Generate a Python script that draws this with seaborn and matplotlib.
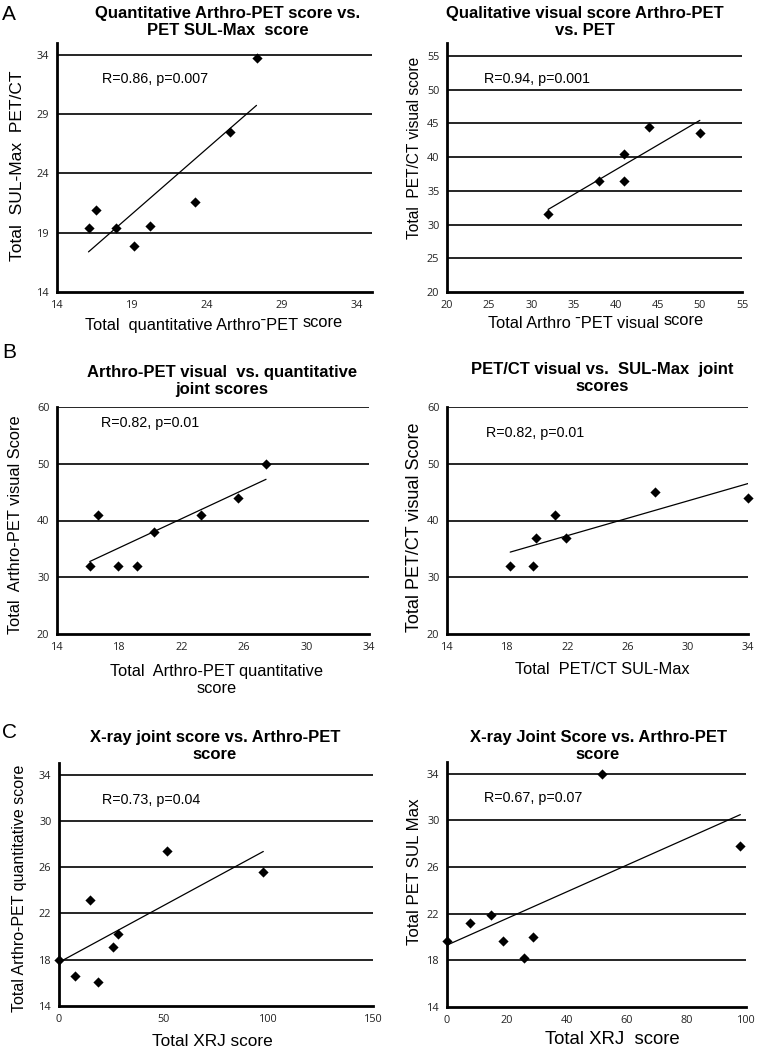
import numpy as np
import matplotlib
matplotlib.use("Agg")
import matplotlib.pyplot as plt
import seaborn as sns

# A left: quantitative Arthro-PET vs PET SUL-Max
a1_x = [16.1, 16.6, 17.9, 19.1, 20.2, 23.2, 25.5, 27.3]
a1_y = [19.4, 20.9, 19.4, 17.9, 19.6, 21.6, 27.5, 33.7]
# A right: visual Arthro-PET vs PET/CT visual
a2_x = [32, 38, 41, 41, 44, 50]
a2_y = [31.5, 36.5, 40.5, 36.5, 44.5, 43.5]
# B left: Arthro-PET quantitative vs visual
b1_x = [16.1, 16.6, 17.9, 19.1, 20.2, 23.2, 25.6, 27.4]
b1_y = [32, 41, 32, 32, 38, 41, 44, 50]
# B right: PET/CT SUL-Max vs PET/CT visual
b2_x = [18.2, 19.7, 19.9, 21.2, 21.9, 27.8, 34.0]
b2_y = [32, 32, 37, 41, 37, 45, 44]
# C left: XRJ vs Arthro-PET quantitative
c1_x = [0, 7.8, 14.6, 18.8, 25.7, 28.4, 51.6, 97.6]
c1_y = [18.0, 16.6, 23.2, 16.1, 19.1, 20.2, 27.4, 25.6]
# C right: XRJ vs PET SUL Max
c2_x = [0, 7.7, 14.8, 18.8, 25.9, 28.9, 51.9, 98.1]
c2_y = [19.7, 21.2, 21.9, 19.7, 18.2, 20.0, 34.0, 27.8]

W, H = 758, 1050
sns.set_style("white")
plt.rcParams['font.family'] = ['Liberation Sans', 'DejaVu Sans']
plt.rcParams['text.color'] = 'black'
plt.rcParams['axes.labelcolor'] = 'black'

fig = plt.figure(figsize=(W / 100, H / 100), dpi=100)


def panel(box, x, y, xlim, ylim, xticks, yticks, title, tpos, xlabel, xlpos,
          ylabel, ylpos, stat, xls=11.8, yls=12, raised=None):
    l, t, r, b = box
    ax = fig.add_axes([l / W, 1 - b / H, (r - l) / W, (b - t) / H])
    fx = lambda px: (px - l) / (r - l)
    fy = lambda py: (b - py) / (b - t)

    sns.regplot(x=np.array(x), y=np.array(y), ax=ax, ci=None, marker="D",
                scatter_kws=dict(s=27, color="black", alpha=1, linewidths=0,
                                 clip_on=False, zorder=4),
                line_kws=dict(color="black", lw=0.9, zorder=3))

    ax.set_xlim(xlim)
    ax.set_ylim(ylim)
    ax.set_xticks(xticks)
    ax.set_yticks(yticks)
    for yy in yticks[1:]:
        ax.axhline(yy, color="black", lw=1.2, zorder=1)
    sns.despine(ax=ax)
    for s in ["left", "bottom"]:
        ax.spines[s].set_linewidth(2)
        ax.spines[s].set_color("black")
    ax.tick_params(direction="out", length=3.5, width=1, color="black",
                   labelsize=7.8, pad=2)
    for lab in ax.get_xticklabels() + ax.get_yticklabels():
        lab.set_family(["Open Sans", "DejaVu Sans"])
        lab.set_color("#222222")

    ax.set_title(title, fontsize=12, fontweight="bold", x=fx(tpos[0]),
                 y=fy(tpos[1]), va="center", linespacing=1.1, pad=0)
    ax.set_xlabel(xlabel, fontsize=xls, linespacing=1.15)
    ax.xaxis.label.set_va("center")
    ax.xaxis.set_label_coords(fx(xlpos[0]), fy(xlpos[1]))
    if raised:
        # trailing word sits a bit higher than the rest of the label
        ax.annotate(raised, xy=(1, 1), xycoords=ax.xaxis.label,
                    xytext=(3, 1.5), textcoords="offset points",
                    ha="left", va="top", fontsize=xls)
    ax.set_ylabel(ylabel, fontsize=yls)
    ax.yaxis.label.set_va("center")
    ax.yaxis.set_label_coords(fx(ylpos[0]), fy(ylpos[1]))
    ax.text(stat[0], stat[1], stat[2], fontsize=10.3, va="center", ha="left")
    return ax


panel((57, 43, 372, 292), a1_x, a1_y, (14, 35), (14, 35),
      [14, 19, 24, 29, 34], [14, 19, 24, 29, 34],
      "Quantitative Arthro-PET score vs.\nPET SUL-Max  score", (228, 22),
      "Total  quantitative Arthro\u02c9PET", (192, 325),
      "Total  SUL-Max  PET/CT", (18, 166), (17.0, 32.0, "R=0.86, p=0.007"),
      yls=12.5, raised="score")

panel((447, 43, 742, 292), a2_x, a2_y, (20, 55), (20, 56.9),
      [20, 25, 30, 35, 40, 45, 50, 55], [20, 25, 30, 35, 40, 45, 50, 55],
      "Qualitative visual score Arthro-PET\nvs. PET", (585, 22),
      "Total Arthro \u02c9PET visual", (574, 323),
      "Total  PET/CT visual score", (414, 148), (24.4, 51.5, "R=0.94, p=0.001"),
      yls=11.2, raised="score")

panel((57, 407, 369, 634), b1_x, b1_y, (14, 34), (20, 60),
      [14, 18, 22, 26, 30, 34], [20, 30, 40, 50, 60],
      "Arthro-PET visual  vs. quantitative\njoint scores", (222, 381),
      "Total  Arthro-PET quantitative\nscore", (217, 680),
      "Total  Arthro-PET visual Score", (15, 525), (16.8, 57.1, "R=0.82, p=0.01"),
      yls=11.8)

panel((447, 407, 748, 634), b2_x, b2_y, (14, 34), (20, 60),
      [14, 18, 22, 26, 30, 34], [20, 30, 40, 50, 60],
      "PET/CT visual vs.  SUL-Max  joint\nscores", (602, 378),
      "Total  PET/CT SUL-Max", (602, 670),
      "Total PET/CT visual Score", (414, 527), (16.6, 55.4, "R=0.82, p=0.01"),
      yls=13)

panel((59, 763, 373, 1006), c1_x, c1_y, (0, 150), (14, 35),
      [0, 50, 100, 150], [14, 18, 22, 26, 30, 34],
      "X-ray joint score vs. Arthro-PET\nscore", (215, 746),
      "Total XRJ score", (212, 1042),
      "Total Arthro-PET quantitative score", (20, 888), (20.5, 31.8, "R=0.73, p=0.04"),
      xls=12.4, yls=11.5)

panel((447, 762, 746, 1007), c2_x, c2_y, (0, 100), (14, 35),
      [0, 20, 40, 60, 80, 100], [14, 18, 22, 26, 30, 34],
      "X-ray Joint Score vs. Arthro-PET\nscore", (598, 746),
      "Total XRJ  score", (612, 1040),
      "Total PET SUL Max", (414, 872), (12.4, 31.9, "R=0.67, p=0.07"),
      xls=13.4, yls=12.2)

for letter, yy in [("A", 14), ("B", 352), ("C", 733)]:
    fig.text(2 / W, 1 - yy / H, letter, fontsize=15, va="center", ha="left")

fig.savefig("out.png", dpi=100, facecolor="white")
